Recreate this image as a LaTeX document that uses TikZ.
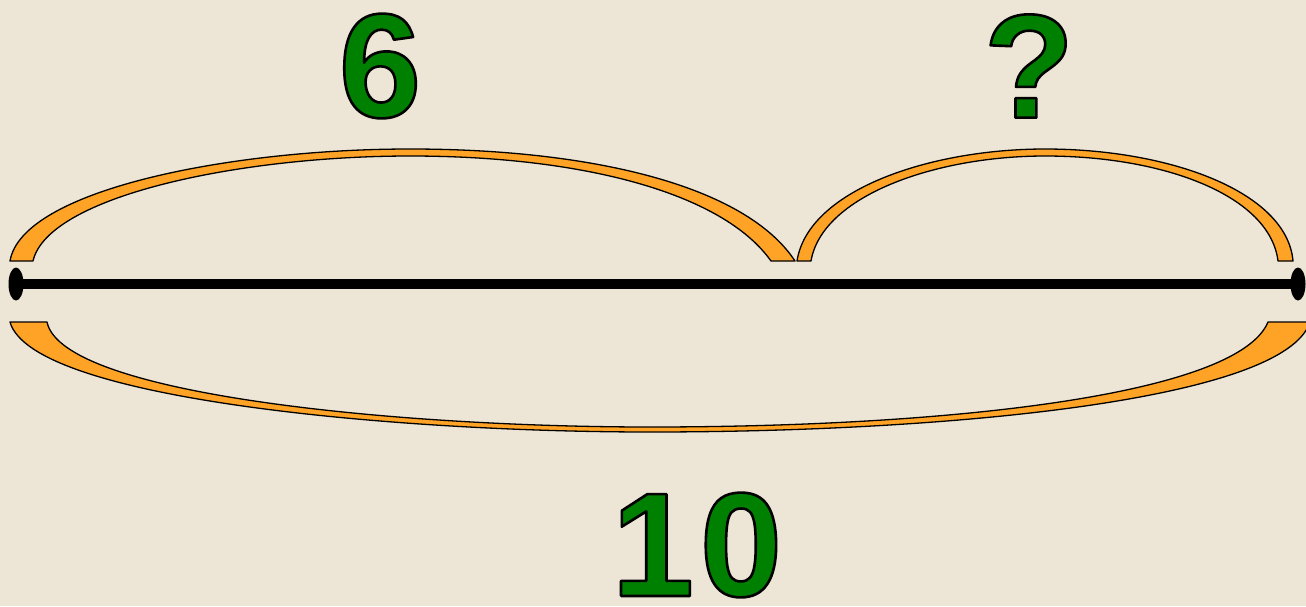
\documentclass[tikz,border=0pt]{standalone}
\usepackage{fontspec}
\setmainfont{Liberation Sans}
\definecolor{bg}{HTML}{EDE5D5}
\definecolor{tgreen}{HTML}{008000}
\definecolor{arcorange}{HTML}{FFA326}
\newcommand{\outlinedtext}[1]{\special{pdf:literal 2 Tr 2.6 w 0 G 1 j}#1\special{pdf:literal 0 Tr}}
\tikzset{
  brace/.style={fill=arcorange, draw=black, line width=1.3pt, line join=round},
  numlabel/.style={inner sep=0pt, text=tgreen, font=\fontsize{148}{150}\selectfont\bfseries},
  endcap/.style={ellipse, fill=black, minimum width=15pt, minimum height=33pt, inner sep=0pt},
}
\usetikzlibrary{shapes.geometric}
\begin{document}
\begin{tikzpicture}[x=1pt,y=-1pt]
\fill[bg] (0,0) rectangle (1306,606);
\useasboundingbox (0,0) rectangle (1306,606);
\clip (0,0) rectangle (1306,606);
% top left arc
\path[brace] (10,261) .. controls (22,190) and (230,149) .. (410,149)
  .. controls (590,149) and (745,185) .. (795,261) -- (771,261)
  .. controls (722,192) and (580,156) .. (410,156)
  .. controls (240,156) and (48,196) .. (33,261) -- cycle;
% top right arc
\path[brace] (797,261) .. controls (808,190) and (930,149) .. (1045,149)
  .. controls (1170,149) and (1287,192) .. (1293,261) -- (1278,261)
  .. controls (1270,196) and (1165,156) .. (1045,156)
  .. controls (935,156) and (822,196) .. (811,261) -- cycle;
% bottom arc
\path[brace] (10,322) .. controls (32,400) and (400,432) .. (650,432)
  .. controls (950,432) and (1285,400) .. (1310,322) -- (1268,322)
  .. controls (1238,395) and (950,427) .. (650,427)
  .. controls (400,427) and (62,395) .. (47,322) -- cycle;
% line
\node[endcap] (lend) at (16,284) {};
\node[endcap] (rend) at (1298,284) {};
\draw[line width=10pt] (lend.center) -- (rend.center);
% labels
\node[numlabel] (six) at (380,66) {\outlinedtext{6}};
\node[numlabel] (q) at (1029,66) {\outlinedtext{?}};
\node[numlabel] (ten) at (697,545) {\outlinedtext{1\kern6pt0}};
\end{tikzpicture}
\end{document}
